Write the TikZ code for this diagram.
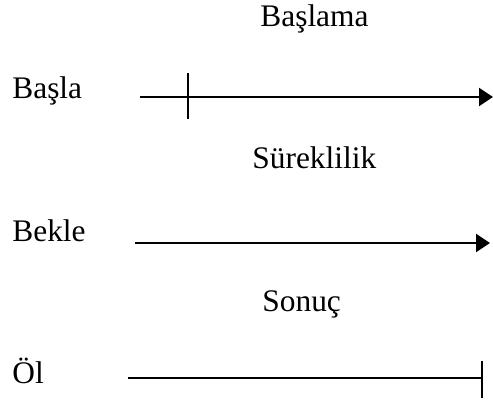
\documentclass[tikz,border=0pt]{standalone}
\usepackage{fontspec}
\setmainfont{Liberation Serif}
\usetikzlibrary{arrows.meta}

\tikzset{
	lbl/.style={inner sep=0pt, anchor=base west, font=\fontsize{15.7}{18}\selectfont},
	phase/.style={line width=1.1pt},
	tip/.style={-{Triangle[length=7pt, width=9pt]}}
}

\begin{document}
\begin{tikzpicture}[x=0.5pt, y=-0.5pt]
		\useasboundingbox (0,0) rectangle (493,403);
		
		% Set the labels
		\node[lbl] (baslama) at (260,26) {Başlama};
		\node[lbl] (surek) at (252,168) {Süreklilik};
		\node[lbl] (sonuc) at (262,311) {Sonuç};
		\node[lbl] (basla) at (12,98) {Başla};
		\node[lbl] (bekle) at (12,241) {Bekle};
		\node[lbl] (ol) at (12,383) {Öl};
		
		% Set the line ends
		\coordinate (s1) at (140,97);
		\coordinate (e1) at (493,97);
		\coordinate (s2) at (135,243);
		\coordinate (e2) at (490,243);
		\coordinate (s3) at (128,378);
		\coordinate (e3) at (482,378);
		
		% Ticks
		\coordinate (t1a) at (188,73);
		\coordinate (t1b) at (188,119);
		\coordinate (t3a) at (482,361);
		\coordinate (t3b) at (482,398);
		
		% Draw the lines
		\foreach \i in {1,2}
		\draw[phase, tip] (s\i) -- (e\i);
		\draw[phase] (s3) -- (e3);
		
		\foreach \i in {1,3}
		\draw[phase] (t\i a) -- (t\i b);
		
	\end{tikzpicture}
\end{document}
